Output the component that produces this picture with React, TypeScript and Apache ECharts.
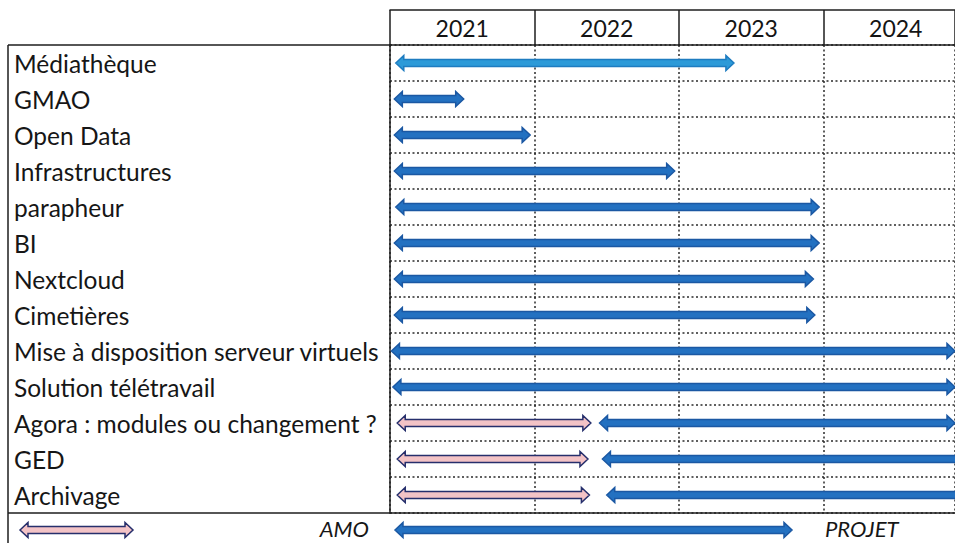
import React, { useEffect, useRef } from "react";
import * as echarts from "echarts";

// ---- data ----
const tasks = [
  "Médiathèque",
  "GMAO",
  "Open Data",
  "Infrastructures",
  "parapheur",
  "BI",
  "Nextcloud",
  "Cimetières",
  "Mise à disposition serveur virtuels",
  "Solution télétravail",
  "Agora : modules ou changement ?",
  "GED",
  "Archivage",
];
const projectStart = [2021.04, 2021.03, 2021.03, 2021.03, 2021.04, 2021.03, 2021.03, 2021.03, 2021.01, 2021.02, 2022.45, 2022.47, 2022.5];
const projectEnd = [2023.38, 2021.51, 2021.97, 2022.97, 2023.97, 2023.97, 2023.93, 2023.94, 2024.91, 2024.91, 2024.91, 2025.0, 2025.0];
const amoTasks = ["Agora : modules ou changement ?", "GED", "Archivage"];
const amoStart = [2021.05, 2021.05, 2021.05];
const amoEnd = [2022.39, 2022.37, 2022.38];
const years = ["2021", "2022", "2023", "2024"];
const legendLabels = ["AMO", "PROJET"];

// ---- layout constants ----
const W = 955;
const H = 543;
const GRID_LEFT = 390;
const GRID_TOP = 45;
const GRID_BOTTOM = 30;
const HEADER_H = 35;
const FRAME_X = 8;
const X_MIN = 2021;
const X_MAX = 2024.91;
const FONT = "Lato, 'Open Sans', sans-serif";
const LINE = "#1e1e1e";
const DOT = "#2a2a2a";

const BLUE = { fill: "#2371c1", stroke: "#1b58a3" };
const LIGHT = { fill: "#2c9ad8", stroke: "#1e7cc0" };
const PINK = { fill: "#f3c3c6", stroke: "#262f6c" };

function arrowPoints(x1: number, x2: number, y: number, h = 3.5, hh = 7.5, L = 8) {
  const l = Math.min(L, (x2 - x1) / 2);
  return [
    [x1, y],
    [x1 + l, y - hh],
    [x1 + l, y - h],
    [x2 - l, y - h],
    [x2 - l, y - hh],
    [x2, y],
    [x2 - l, y + hh],
    [x2 - l, y + h],
    [x1 + l, y + h],
    [x1 + l, y + hh],
  ];
}

function makeRender(pick: (idx: number) => { fill: string; stroke: string }) {
  return (params: any, api: any) => {
    const a = api.coord([api.value(0), api.value(2)]);
    const b = api.coord([api.value(1), api.value(2)]);
    const c = pick(params.dataIndex);
    return {
      type: "polygon",
      shape: { points: arrowPoints(a[0], b[0], a[1]) },
      style: { fill: c.fill, stroke: c.stroke, lineWidth: 1.5 },
    };
  };
}

export default function App() {
  const ref = useRef<HTMLDivElement>(null);
  useEffect(() => {
    if (!ref.current) return;
    const chart = echarts.init(ref.current, undefined, { renderer: "svg" });
    const bottomY = H - GRID_BOTTOM;
    const legendY = bottomY + 17;
    const legendTextY = bottomY + 15;

    const projectData = tasks.map((t, i) => [projectStart[i], projectEnd[i], t]);
    const amoData = amoTasks.map((t, i) => [amoStart[i], amoEnd[i], t]);

    const baseX = { type: "value", min: X_MIN, max: X_MAX, gridIndex: 0 };

    chart.setOption({
      animation: false,
      backgroundColor: "#ffffff",
      grid: { left: GRID_LEFT, right: 0, top: GRID_TOP, bottom: GRID_BOTTOM, containLabel: false },
      xAxis: [
        {
          ...baseX,
          position: "bottom",
          interval: 1,
          axisLine: { show: true, lineStyle: { color: LINE, width: 1.5 } },
          axisTick: { show: false },
          axisLabel: { show: false },
          splitLine: { show: true, lineStyle: { color: DOT, width: 1.5, type: [2, 2.5] } },
        },
        {
          ...baseX,
          position: "top",
          interval: 0.5,
          axisLine: { show: true, lineStyle: { color: LINE, width: 1.5 } },
          axisTick: { show: false },
          splitLine: { show: false },
          axisLabel: {
            show: true,
            margin: 17,
            verticalAlign: "middle",
            fontFamily: FONT,
            fontSize: 23,
            color: "#141414",
            showMinLabel: true,
            showMaxLabel: false,
            formatter: (v: number) => (Math.abs((v % 1) - 0.5) < 1e-6 ? years[Math.floor(v) - X_MIN] ?? "" : ""),
          },
        },
        {
          ...baseX,
          position: "top",
          interval: 1,
          axisLine: { show: false },
          axisTick: { show: true, inside: false, length: HEADER_H, lineStyle: { color: LINE, width: 1.5 } },
          axisLabel: { show: false },
          splitLine: { show: false },
        },
        {
          ...baseX,
          position: "top",
          offset: HEADER_H,
          axisLine: { show: true, lineStyle: { color: LINE, width: 1.5 } },
          axisTick: { show: false },
          axisLabel: { show: false },
          splitLine: { show: false },
        },
      ],
      yAxis: {
        type: "category",
        data: tasks,
        inverse: true,
        axisLine: { show: true, lineStyle: { color: LINE, width: 1.5 } },
        axisTick: { show: false },
        axisLabel: {
          align: "left",
          margin: GRID_LEFT - 14,
          fontFamily: FONT,
          fontSize: 24.5,
          color: "#161616",
        },
        splitLine: { show: true, lineStyle: { color: DOT, width: 1.5, type: [2, 2.5] } },
      },
      series: [
        {
          type: "custom",
          name: "PROJET",
          clip: true,
          encode: { x: [0, 1], y: 2 },
          data: projectData,
          renderItem: makeRender((i) => (i === 0 ? LIGHT : BLUE)),
          z: 3,
        },
        {
          type: "custom",
          name: "AMO",
          clip: true,
          encode: { x: [0, 1], y: 2 },
          data: amoData,
          renderItem: makeRender(() => PINK),
          z: 3,
        },
      ],
      graphic: [
        { type: "line", shape: { x1: FRAME_X, y1: GRID_TOP, x2: GRID_LEFT, y2: GRID_TOP }, style: { stroke: LINE, lineWidth: 1.5 } },
        { type: "line", shape: { x1: FRAME_X, y1: bottomY, x2: GRID_LEFT, y2: bottomY }, style: { stroke: LINE, lineWidth: 1.5 } },
        { type: "line", shape: { x1: FRAME_X, y1: GRID_TOP, x2: FRAME_X, y2: H }, style: { stroke: LINE, lineWidth: 1.5 } },
        {
          type: "polygon",
          shape: { points: arrowPoints(20, 133, legendY) },
          style: { fill: PINK.fill, stroke: PINK.stroke, lineWidth: 1.5 },
        },
        {
          type: "text",
          x: 369,
          y: legendTextY,
          style: { text: legendLabels[0], fontFamily: FONT, fontStyle: "italic", fontSize: 22, fill: "#161616", align: "right", verticalAlign: "middle" },
        },
        {
          type: "polygon",
          shape: { points: arrowPoints(395, 792, legendY) },
          style: { fill: BLUE.fill, stroke: BLUE.stroke, lineWidth: 1.5 },
        },
        {
          type: "text",
          x: 825,
          y: legendTextY,
          style: { text: legendLabels[1], fontFamily: FONT, fontStyle: "italic", fontSize: 22, fill: "#161616", align: "left", verticalAlign: "middle" },
        },
      ],
    });
    return () => chart.dispose();
  }, []);
  return <div ref={ref} style={{ position: "fixed", left: 0, top: 0, width: W, height: H, background: "#fff" }} />;
}
